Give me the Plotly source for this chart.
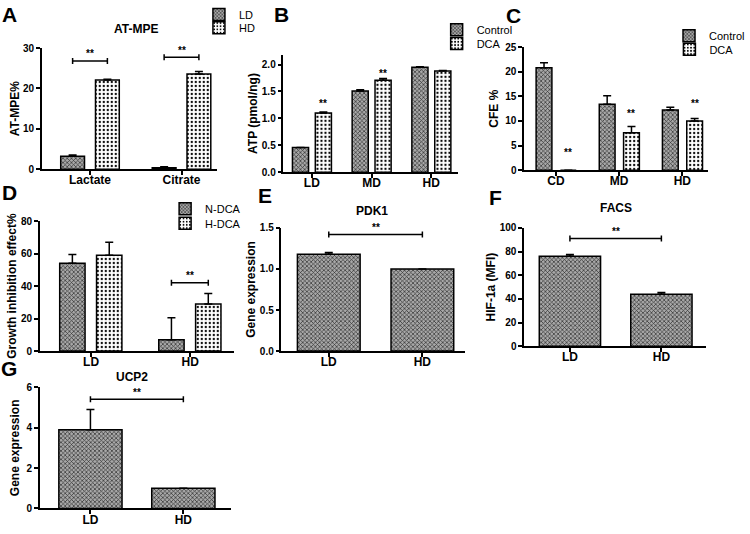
import plotly.graph_objects as go

W, H = 750, 534

# ---------------- data ----------------
# Panel A: AT-MPE
a_cats = ["Lactate", "Citrate"]
a_ld = [3.2, 0.4]
a_ld_err = [0.3, 0.2]
a_hd = [22.1, 23.6]
a_hd_err = [0.2, 0.6]
a_sig_y = [26.8, 27.7]

# Panel B: ATP
b_cats = ["LD", "MD", "HD"]
b_ctrl = [0.46, 1.51, 1.95]
b_ctrl_err = [0.0, 0.02, 0.01]
b_dca = [1.10, 1.71, 1.88]
b_dca_err = [0.02, 0.03, 0.01]
b_star_y = [1.27, 1.84, None]

# Panel C: CFE
c_cats = ["CD", "MD", "HD"]
c_ctrl = [20.8, 13.4, 12.2]
c_ctrl_err = [1.0, 1.7, 0.6]
c_dca = [0.0, 7.6, 10.0]
c_dca_err = [0.0, 1.3, 0.5]
c_star_y = [3.6, 11.5, 13.5]

# Panel D: growth inhibition
d_cats = ["LD", "HD"]
d_n = [54, 7]
d_n_err = [5.5, 13.5]
d_h = [59, 29]
d_h_err = [8, 6.5]
d_sig_y = [None, 42]

# Panel E: PDK1
e_cats = ["LD", "HD"]
e_vals = [1.18, 1.0]
e_err = [0.02, 0.0]
e_sig_y = 1.42

# Panel F: FACS
f_cats = ["LD", "HD"]
f_vals = [76, 44]
f_err = [1.5, 1.3]
f_sig_y = 91

# Panel G: UCP2
g_cats = ["LD", "HD"]
g_vals = [3.9, 1.0]
g_err = [1.0, 0.0]
g_sig_y = 5.4

# ---------------- styles ----------------
FONT = "Liberation Sans, Arial, sans-serif"
PAT1 = dict(shape="x", size=3, solidity=0.4, fgcolor="#2e2e2e", bgcolor="#a8a8a8", fillmode="replace")
PAT2 = dict(shape=".", size=4, solidity=0.25, fgcolor="#000000", bgcolor="#ffffff", fillmode="replace")


def px_x(x0, x1):
    return [x0 / W, x1 / W]


def px_y(top, bottom):
    return [1 - bottom / H, 1 - top / H]


fig = go.Figure()


def add_bar(xname, yname, cats, vals, errs, pat, name, offset, width, legend=None, showlegend=False):
    fig.add_trace(go.Bar(
        x=cats, y=vals, name=name, xaxis=xname, yaxis=yname,
        offset=offset, width=width,
        marker=dict(pattern=pat, line=dict(color="black", width=1.5)),
        error_y=dict(type="data", array=errs, arrayminus=[0] * len(errs), symmetric=False,
                     color="black", thickness=1.5, width=4),
        showlegend=showlegend, legend=legend,
    ))


def bracket(xref, yref, x0, x1, y, cap=3):
    fig.add_shape(type="line", xref=xref, yref=yref, x0=x0, x1=x1, y0=y, y1=y,
                  line=dict(color="black", width=1.5))
    for xx in (x0, x1):
        fig.add_shape(type="line", xref=xref, yref=yref, x0=xx, x1=xx,
                      ysizemode="pixel", yanchor=y, y0=-cap, y1=cap,
                      line=dict(color="black", width=1.5))
    fig.add_annotation(xref=xref, yref=yref, x=(x0 + x1) / 2, y=y, text="**", showarrow=False,
                       yshift=7, font=dict(size=10, family=FONT, color="black", weight="bold"))


def star(xref, yref, x, y):
    fig.add_annotation(xref=xref, yref=yref, x=x, y=y, text="**", showarrow=False,
                       font=dict(size=10, family=FONT, color="black", weight="bold"))


# Panel A
aw = 0.26
add_bar("x", "y", a_cats, a_ld, a_ld_err, PAT1, "LD", -0.32, aw, "legend", True)
add_bar("x", "y", a_cats, a_hd, a_hd_err, PAT2, "HD", 0.06, aw, "legend2", True)
for i, sy in enumerate(a_sig_y):
    bracket("x", "y", i - 0.32 + aw / 2, i + 0.06 + aw / 2, sy)

# Panel B
bw = 0.27
add_bar("x2", "y2", b_cats, b_ctrl, b_ctrl_err, PAT1, "Control", -0.325, bw, "legend3", True)
add_bar("x2", "y2", b_cats, b_dca, b_dca_err, PAT2, "DCA", 0.058, bw, "legend4", True)
for i, sy in enumerate(b_star_y):
    if sy is not None:
        star("x2", "y2", i + 0.058 + bw / 2, sy)

# Panel C
cw = 0.25
add_bar("x3", "y3", c_cats, c_ctrl, c_ctrl_err, PAT1, "Control", -0.315, cw, "legend5", True)
add_bar("x3", "y3", c_cats, c_dca, c_dca_err, PAT2, "DCA", 0.07, cw, "legend6", True)
for i, sy in enumerate(c_star_y):
    star("x3", "y3", i + 0.07 + cw / 2, sy)

# Panel D
dw = 0.256
add_bar("x4", "y4", d_cats, d_n, d_n_err, PAT1, "N-DCA", -0.317, dw, "legend7", True)
add_bar("x4", "y4", d_cats, d_h, d_h_err, PAT2, "H-DCA", 0.055, dw, "legend8", True)
for i, sy in enumerate(d_sig_y):
    if sy is not None:
        bracket("x4", "y4", i - 0.317 + dw / 2, i + 0.055 + dw / 2, sy)

# Panel E, F, G
sw = 0.67
add_bar("x5", "y5", e_cats, e_vals, e_err, PAT1, "PDK1", -sw / 2, sw)
bracket("x5", "y5", 0, 1, e_sig_y)
add_bar("x6", "y6", f_cats, f_vals, f_err, PAT1, "FACS", -sw / 2, sw)
bracket("x6", "y6", 0, 1, f_sig_y)
add_bar("x7", "y7", g_cats, g_vals, g_err, PAT1, "UCP2", -0.34, 0.68)
bracket("x7", "y7", 0, 1, g_sig_y)

# ---------------- axes ----------------
panels = [
    # (suffix, xpix, ypix(top,bottom), xrange, yrange, dtick, tickformat, ytitle, standoff)
    ("", (42, 218), (43, 167), [-0.527, 1.386], [0, 30], 10, "", "AT-MPE%", 1),
    ("2", (285, 460), (50, 170), [-0.475, 2.44], [0, 2.18], 0.5, ".1f", "ATP (pmol/ng)", 2),
    ("3", (527, 712), (42, 168), [-0.504, 2.41], [0, 25], 5, "", "CFE %", 4),
    ("4", (40, 235), (220, 353), [-0.518, 1.44], [0, 80], 20, "", "Growth inhibition effect%", 2),
    ("5", (283, 467), (227, 353), [-0.505, 1.45], [0, 1.5], 0.5, ".1f", "Gene expression", 2),
    ("6", (527, 710), (227, 348), [-0.5, 1.49], [0, 100], 20, "", "HIF-1a (MFI)", 2),
    ("7", (40, 232), (390, 514), [-0.545, 1.51], [0, 6], 2, "", "Gene expression", 4),
]

layout = {}
for suf, xp, yp, xr, yr, dt, tf, yt, so in panels:
    xa = "xaxis" + suf
    ya = "yaxis" + suf
    layout[xa] = dict(
        domain=px_x(*xp), anchor="y" + suf, range=xr, type="category",
        showline=True, linecolor="black", linewidth=1.5, ticks="outside", ticklen=4,
        tickwidth=1.5, tickcolor="black", showgrid=False, zeroline=False, fixedrange=True,
        ticklabelstandoff=-5,
        tickfont=dict(size=12, family=FONT, color="black", weight="bold"),
    )
    layout[ya] = dict(
        domain=px_y(*yp), anchor="x" + suf, range=yr, dtick=dt, tick0=0, tickformat=tf,
        showline=True, linecolor="black", linewidth=1.5, ticks="outside", ticklen=4,
        tickwidth=1.5, tickcolor="black", showgrid=False, zeroline=False, fixedrange=True,
        tickfont=dict(size=10, family=FONT, color="black", weight="bold"),
        title=dict(text=yt, standoff=so, font=dict(size=12, family=FONT, color="black", weight="bold")),
    )

fig.update_layout(**layout)

# panel letters and titles
letters = [("A", 10, 9), ("B", 283, 9), ("C", 516, 10), ("D", 10, 191),
           ("E", 266, 194), ("F", 498, 196), ("G", 9, 371)]
for t, x, y in letters:
    fig.add_annotation(xref="paper", yref="paper", x=x / W, y=1 - y / H, text=t, showarrow=False,
                       xanchor="center", yanchor="middle",
                       font=dict(size=21, family=FONT, color="black", weight="bold"))
titles = [("AT-MPE", 137, 24), ("PDK1", 374, 210), ("FACS", 619, 207), ("UCP2", 133, 380)]
for t, x, y in titles:
    fig.add_annotation(xref="paper", yref="paper", x=x / W, y=1 - y / H, text=t, showarrow=False,
                       xanchor="center", yanchor="middle",
                       font=dict(size=12, family=FONT, color="black", weight="bold"))

# one legend per entry so each row sits where the reference puts it
leg_common = dict(bgcolor="rgba(0,0,0,0)", borderwidth=0, xanchor="left", yanchor="top",
                  font=dict(size=11, family=FONT, color="black"), itemwidth=30,
                  tracegroupgap=0)
ROW = 19.5  # offset from legend top to the centre of its single row
leg_pos = {
    "legend": (200, 13), "legend2": (200, 27),
    "legend3": (439, 29), "legend4": (439, 43),
    "legend5": (673, 35), "legend6": (673, 49),
    "legend7": (166, 212), "legend8": (166, 227),
}
for key, (lx, ly) in leg_pos.items():
    fig.update_layout({key: dict(x=lx / W, y=1 - (ly - ROW) / H, **leg_common)})

fig.update_layout(
    width=W, height=H, margin=dict(l=0, r=0, t=0, b=0),
    paper_bgcolor="white", plot_bgcolor="white", barmode="overlay",
    font=dict(family=FONT, color="black"),
)

fig.write_html("out.html", config={"displayModeBar": False},
               post_script="document.body.style.margin='0px';")
